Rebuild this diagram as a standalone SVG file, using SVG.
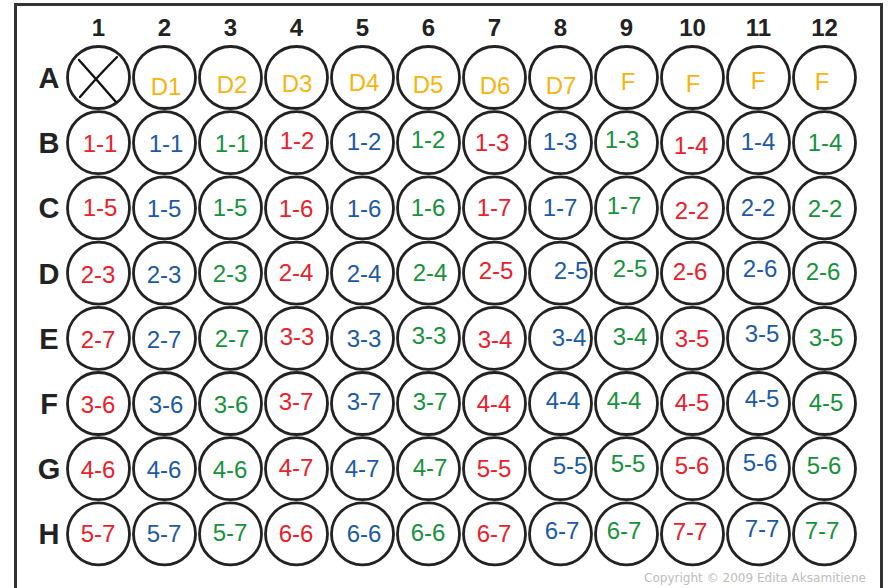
<svg xmlns="http://www.w3.org/2000/svg" width="888" height="588" viewBox="0 0 888 588">
<style>
.well{fill:#fff;stroke:#222;stroke-width:2.8}
.hdr{font-family:"Liberation Sans",Arial,sans-serif;font-weight:bold;fill:#222;text-anchor:middle}
.col{font-size:24px}
.row{font-size:29px}
.lb{font-family:"Liberation Sans",Arial,sans-serif;font-size:24px;text-anchor:middle}
.r{fill:#e8212b}.b{fill:#1c5aa3}.g{fill:#17913c}.o{fill:#f6b40f}
.copy{font-family:"DejaVu Sans",sans-serif;font-size:13px;fill:#bdbdbd}
</style>
<rect x="0" y="0" width="888" height="588" fill="#fff"/>
<rect x="15.5" y="4.5" width="866" height="600" fill="none" stroke="#333" stroke-width="3"/>
<g id="column-headers" class="hdr col">
<text x="98.5" y="36">1</text><text x="164.5" y="36">2</text><text x="230.5" y="36">3</text><text x="296.5" y="36">4</text><text x="362.5" y="36">5</text><text x="428.5" y="36">6</text><text x="494.5" y="36">7</text><text x="560.5" y="36">8</text><text x="626.5" y="36">9</text><text x="692.5" y="36">10</text><text x="758.5" y="36">11</text><text x="824.5" y="36">12</text>
</g>
<g id="row-headers" class="hdr row">
<text x="49" y="88">A</text><text x="49" y="153">B</text><text x="49" y="218">C</text><text x="49" y="284">D</text><text x="49" y="349">E</text><text x="49" y="414">F</text><text x="49" y="479">G</text><text x="49" y="544">H</text>
</g>
<g id="wells">
<g id="wells-circles">
<circle class="well" cx="98.5" cy="77.5" r="31"/><circle class="well" cx="164.5" cy="77.5" r="31"/><circle class="well" cx="230.5" cy="77.5" r="31"/><circle class="well" cx="296.5" cy="77.5" r="31"/><circle class="well" cx="362.5" cy="77.5" r="31"/><circle class="well" cx="428.5" cy="77.5" r="31"/><circle class="well" cx="494.5" cy="77.5" r="31"/><circle class="well" cx="560.5" cy="77.5" r="31"/><circle class="well" cx="626.5" cy="77.5" r="31"/><circle class="well" cx="692.5" cy="77.5" r="31"/><circle class="well" cx="758.5" cy="77.5" r="31"/><circle class="well" cx="824.5" cy="77.5" r="31"/>
<circle class="well" cx="98.5" cy="142.7" r="31"/><circle class="well" cx="164.5" cy="142.7" r="31"/><circle class="well" cx="230.5" cy="142.7" r="31"/><circle class="well" cx="296.5" cy="142.7" r="31"/><circle class="well" cx="362.5" cy="142.7" r="31"/><circle class="well" cx="428.5" cy="142.7" r="31"/><circle class="well" cx="494.5" cy="142.7" r="31"/><circle class="well" cx="560.5" cy="142.7" r="31"/><circle class="well" cx="626.5" cy="142.7" r="31"/><circle class="well" cx="692.5" cy="142.7" r="31"/><circle class="well" cx="758.5" cy="142.7" r="31"/><circle class="well" cx="824.5" cy="142.7" r="31"/>
<circle class="well" cx="98.5" cy="207.9" r="31"/><circle class="well" cx="164.5" cy="207.9" r="31"/><circle class="well" cx="230.5" cy="207.9" r="31"/><circle class="well" cx="296.5" cy="207.9" r="31"/><circle class="well" cx="362.5" cy="207.9" r="31"/><circle class="well" cx="428.5" cy="207.9" r="31"/><circle class="well" cx="494.5" cy="207.9" r="31"/><circle class="well" cx="560.5" cy="207.9" r="31"/><circle class="well" cx="626.5" cy="207.9" r="31"/><circle class="well" cx="692.5" cy="207.9" r="31"/><circle class="well" cx="758.5" cy="207.9" r="31"/><circle class="well" cx="824.5" cy="207.9" r="31"/>
<circle class="well" cx="98.5" cy="273.1" r="31"/><circle class="well" cx="164.5" cy="273.1" r="31"/><circle class="well" cx="230.5" cy="273.1" r="31"/><circle class="well" cx="296.5" cy="273.1" r="31"/><circle class="well" cx="362.5" cy="273.1" r="31"/><circle class="well" cx="428.5" cy="273.1" r="31"/><circle class="well" cx="494.5" cy="273.1" r="31"/><circle class="well" cx="560.5" cy="273.1" r="31"/><circle class="well" cx="626.5" cy="273.1" r="31"/><circle class="well" cx="692.5" cy="273.1" r="31"/><circle class="well" cx="758.5" cy="273.1" r="31"/><circle class="well" cx="824.5" cy="273.1" r="31"/>
<circle class="well" cx="98.5" cy="338.3" r="31"/><circle class="well" cx="164.5" cy="338.3" r="31"/><circle class="well" cx="230.5" cy="338.3" r="31"/><circle class="well" cx="296.5" cy="338.3" r="31"/><circle class="well" cx="362.5" cy="338.3" r="31"/><circle class="well" cx="428.5" cy="338.3" r="31"/><circle class="well" cx="494.5" cy="338.3" r="31"/><circle class="well" cx="560.5" cy="338.3" r="31"/><circle class="well" cx="626.5" cy="338.3" r="31"/><circle class="well" cx="692.5" cy="338.3" r="31"/><circle class="well" cx="758.5" cy="338.3" r="31"/><circle class="well" cx="824.5" cy="338.3" r="31"/>
<circle class="well" cx="98.5" cy="403.5" r="31"/><circle class="well" cx="164.5" cy="403.5" r="31"/><circle class="well" cx="230.5" cy="403.5" r="31"/><circle class="well" cx="296.5" cy="403.5" r="31"/><circle class="well" cx="362.5" cy="403.5" r="31"/><circle class="well" cx="428.5" cy="403.5" r="31"/><circle class="well" cx="494.5" cy="403.5" r="31"/><circle class="well" cx="560.5" cy="403.5" r="31"/><circle class="well" cx="626.5" cy="403.5" r="31"/><circle class="well" cx="692.5" cy="403.5" r="31"/><circle class="well" cx="758.5" cy="403.5" r="31"/><circle class="well" cx="824.5" cy="403.5" r="31"/>
<circle class="well" cx="98.5" cy="468.7" r="31"/><circle class="well" cx="164.5" cy="468.7" r="31"/><circle class="well" cx="230.5" cy="468.7" r="31"/><circle class="well" cx="296.5" cy="468.7" r="31"/><circle class="well" cx="362.5" cy="468.7" r="31"/><circle class="well" cx="428.5" cy="468.7" r="31"/><circle class="well" cx="494.5" cy="468.7" r="31"/><circle class="well" cx="560.5" cy="468.7" r="31"/><circle class="well" cx="626.5" cy="468.7" r="31"/><circle class="well" cx="692.5" cy="468.7" r="31"/><circle class="well" cx="758.5" cy="468.7" r="31"/><circle class="well" cx="824.5" cy="468.7" r="31"/>
<circle class="well" cx="98.5" cy="533.9" r="31"/><circle class="well" cx="164.5" cy="533.9" r="31"/><circle class="well" cx="230.5" cy="533.9" r="31"/><circle class="well" cx="296.5" cy="533.9" r="31"/><circle class="well" cx="362.5" cy="533.9" r="31"/><circle class="well" cx="428.5" cy="533.9" r="31"/><circle class="well" cx="494.5" cy="533.9" r="31"/><circle class="well" cx="560.5" cy="533.9" r="31"/><circle class="well" cx="626.5" cy="533.9" r="31"/><circle class="well" cx="692.5" cy="533.9" r="31"/><circle class="well" cx="758.5" cy="533.9" r="31"/><circle class="well" cx="824.5" cy="533.9" r="31"/>
</g>
<g id="well-A1-cross" stroke="#111" stroke-width="2.4" stroke-linecap="round" fill="none">
<path d="M79 60 Q97 80 116 102"/><path d="M117 57 Q99 75 80 97"/>
</g>
<g id="row-A-labels" class="lb o">
<text x="166" y="95">D1</text><text x="232" y="93">D2</text><text x="297" y="92">D3</text><text x="364" y="91">D4</text><text x="428" y="93">D5</text><text x="495" y="94">D6</text><text x="561" y="94">D7</text><text x="628" y="90">F</text><text x="693" y="92">F</text><text x="758" y="89">F</text><text x="822" y="90">F</text>
</g>
<g id="row-B-labels" class="lb">
<text class="r" x="100" y="152">1-1</text><text class="b" x="166" y="152">1-1</text><text class="g" x="232" y="152">1-1</text><text class="r" x="297" y="149">1-2</text><text class="b" x="364" y="150">1-2</text><text class="g" x="428" y="148">1-2</text><text class="r" x="492" y="151">1-3</text><text class="b" x="560" y="150">1-3</text><text class="g" x="622" y="148">1-3</text><text class="r" x="691" y="154">1-4</text><text class="b" x="758" y="150">1-4</text><text class="g" x="825" y="151">1-4</text>
</g>
<g id="row-C-labels" class="lb">
<text class="r" x="100" y="216">1-5</text><text class="b" x="164" y="217">1-5</text><text class="g" x="230" y="216">1-5</text><text class="r" x="296" y="217">1-6</text><text class="b" x="364" y="217">1-6</text><text class="g" x="428" y="216">1-6</text><text class="r" x="494" y="216">1-7</text><text class="b" x="560" y="216">1-7</text><text class="g" x="624" y="214">1-7</text><text class="r" x="692" y="219">2-2</text><text class="b" x="758" y="216">2-2</text><text class="g" x="825" y="217">2-2</text>
</g>
<g id="row-D-labels" class="lb">
<text class="r" x="98" y="283">2-3</text><text class="b" x="164" y="283">2-3</text><text class="g" x="230" y="282">2-3</text><text class="r" x="296" y="281">2-4</text><text class="b" x="364" y="282">2-4</text><text class="g" x="430" y="281">2-4</text><text class="r" x="496" y="279">2-5</text><text class="b" x="571" y="279">2-5</text><text class="g" x="630" y="277">2-5</text><text class="r" x="690" y="280">2-6</text><text class="b" x="760" y="277">2-6</text><text class="g" x="823" y="280">2-6</text>
</g>
<g id="row-E-labels" class="lb">
<text class="r" x="98" y="348">2-7</text><text class="b" x="164" y="348">2-7</text><text class="g" x="232" y="347">2-7</text><text class="r" x="297" y="345">3-3</text><text class="b" x="364" y="347">3-3</text><text class="g" x="429" y="344">3-3</text><text class="r" x="495" y="348">3-4</text><text class="b" x="569" y="346">3-4</text><text class="g" x="630" y="345">3-4</text><text class="r" x="692" y="347">3-5</text><text class="b" x="762" y="342">3-5</text><text class="g" x="826" y="346">3-5</text>
</g>
<g id="row-F-labels" class="lb">
<text class="r" x="98" y="413">3-6</text><text class="b" x="166" y="413">3-6</text><text class="g" x="231" y="413">3-6</text><text class="r" x="296" y="410">3-7</text><text class="b" x="364" y="410">3-7</text><text class="g" x="430" y="410">3-7</text><text class="r" x="494" y="412">4-4</text><text class="b" x="563" y="409">4-4</text><text class="g" x="624" y="409">4-4</text><text class="r" x="692" y="411">4-5</text><text class="b" x="762" y="407">4-5</text><text class="g" x="826" y="411">4-5</text>
</g>
<g id="row-G-labels" class="lb">
<text class="r" x="98" y="478">4-6</text><text class="b" x="164" y="478">4-6</text><text class="g" x="230" y="478">4-6</text><text class="r" x="296" y="476">4-7</text><text class="b" x="362" y="477">4-7</text><text class="g" x="430" y="476">4-7</text><text class="r" x="494" y="477">5-5</text><text class="b" x="570" y="474">5-5</text><text class="g" x="628" y="472">5-5</text><text class="r" x="692" y="474">5-6</text><text class="b" x="760" y="471">5-6</text><text class="g" x="824" y="474">5-6</text>
</g>
<g id="row-H-labels" class="lb">
<text class="r" x="98" y="542">5-7</text><text class="b" x="164" y="542">5-7</text><text class="g" x="230" y="541">5-7</text><text class="r" x="296" y="542">6-6</text><text class="b" x="364" y="542">6-6</text><text class="g" x="428" y="541">6-6</text><text class="r" x="494" y="542">6-7</text><text class="b" x="562" y="539">6-7</text><text class="g" x="624" y="539">6-7</text><text class="r" x="690" y="540">7-7</text><text class="b" x="762" y="537">7-7</text><text class="g" x="822" y="539">7-7</text>
</g>
</g>
<text class="copy" x="644" y="582" textLength="222" lengthAdjust="spacingAndGlyphs">Copyright © 2009 Edita Aksamitiene</text>
</svg>
